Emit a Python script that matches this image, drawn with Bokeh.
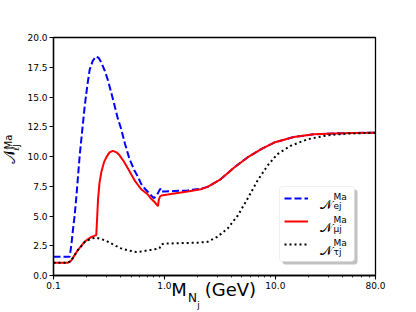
import numpy as np
from bokeh.plotting import figure
from bokeh.layouts import row
from bokeh.models import (FixedTicker, Label, Legend, LegendItem, BoxAnnotation,
                          CustomJSTickFormatter, Range1d, LinearScale, LinearAxis)
from bokeh.embed import file_html
from bokeh.resources import INLINE

# ---------------- data ----------------
mass_e = [0.100, 0.140, 0.145, 0.150, 0.155, 0.161, 0.172, 0.182, 0.191, 0.202, 0.212,
          0.225, 0.240, 0.255, 0.270, 0.290, 0.310, 0.344, 0.380, 0.408, 0.440, 0.484,
          0.538, 0.577, 0.617, 0.680, 0.740, 0.800, 0.850, 0.900, 0.925, 0.950, 1.00,
          1.23, 1.62, 2.13, 2.45, 3.23, 4.26, 5.61, 7.39, 9.75, 14.7, 22.2, 33.5, 50.0, 80.0]
n_e = [1.58, 1.58, 2.6, 3.9, 5.0, 6.7, 10.0, 12.3, 14.2, 16.0, 17.3,
       18.0, 18.4, 18.3, 17.9, 17.2, 16.4, 14.8, 13.2, 12.3, 11.1, 9.8,
       8.8, 8.3, 7.7, 7.2, 6.85, 6.5, 6.7, 7.15, 7.3, 7.05, 7.05,
       7.1, 7.15, 7.3, 7.45, 8.1, 9.08, 9.92, 10.6, 11.17, 11.64, 11.86, 11.94, 11.98, 12.0]

mass_mu = [0.100, 0.135, 0.143, 0.150, 0.166, 0.191, 0.220, 0.243, 0.248, 0.252, 0.260,
           0.270, 0.285, 0.300, 0.320, 0.343, 0.370, 0.394, 0.430, 0.469, 0.538, 0.617,
           0.700, 0.760, 0.820, 0.875, 0.890, 0.910, 0.940, 1.07, 1.62, 2.13, 2.45,
           3.23, 4.26, 5.61, 7.39, 9.75, 14.7, 22.2, 33.5, 50.0, 80.0]
n_mu = [1.08, 1.08, 1.2, 1.5, 2.14, 2.85, 3.25, 3.39, 5.0, 6.4, 7.8,
        8.7, 9.5, 9.95, 10.35, 10.47, 10.35, 10.1, 9.6, 9.0, 8.0, 7.25,
        6.85, 6.45, 6.15, 5.83, 6.35, 6.62, 6.72, 6.8, 7.06, 7.25, 7.45,
        8.1, 9.08, 9.92, 10.6, 11.17, 11.64, 11.86, 11.94, 11.98, 12.0]

mass_tau = [0.100, 0.135, 0.143, 0.150, 0.166, 0.191, 0.220, 0.243, 0.270, 0.300, 0.343,
            0.400, 0.469, 0.560, 0.650, 0.750, 0.870, 0.905, 0.930, 1.00, 1.41, 2.00,
            2.45, 3.00, 3.71, 4.60, 5.61, 6.90, 8.49, 10.4, 13.7, 19.4, 29.3, 44.4, 80.0]
n_tau = [1.08, 1.08, 1.2, 1.5, 2.14, 2.8, 3.12, 3.18, 3.06, 2.9, 2.62,
         2.3, 2.12, 1.97, 2.05, 2.15, 2.25, 2.3, 2.6, 2.68, 2.72, 2.76,
         2.83, 3.25, 3.94, 5.06, 6.44, 7.97, 9.22, 10.19, 10.89, 11.44, 11.78, 11.92, 12.0]

x_ticks = [0.1, 1.0, 10.0, 80.0]
x_minor = [0.2, 0.3, 0.4, 0.5, 0.6, 0.7, 0.8, 0.9, 2, 3, 4, 5, 6, 7, 8, 9,
           20, 30, 40, 50, 60, 70]
y_ticks = [0.0, 2.5, 5.0, 7.5, 10.0, 12.5, 15.0, 17.5, 20.0]

legend_sub = ["ej", "μj", "τj"]

# ---------------- layout constants (page pixels) ----------------
FONT = "DejaVu Sans"
W, H = 416, 312
YLW = 24                      # strip that carries the y-axis title
FL, FR, FT, FB = 52, 375, 37, 277


def text_axis(fig, side, pieces, size, standoff=0, loc=None, xr=None):
    """an invisible axis whose tick labels are the given text pieces"""
    kw = {}
    if xr is not None:
        kw["x_range_name"] = xr
    ax = LinearAxis(ticker=FixedTicker(ticks=[c for c, _ in pieces], minor_ticks=[]),
                    formatter=CustomJSTickFormatter(args=dict(labels=[t for _, t in pieces]),
                                                    code="return labels[index]"),
                    axis_line_color=None, major_tick_line_color=None,
                    minor_tick_line_color=None, major_tick_in=0, major_tick_out=0,
                    minor_tick_in=0, minor_tick_out=0, major_label_standoff=standoff,
                    major_label_text_font=FONT, major_label_text_font_size=f"{size}px",
                    major_label_text_color="black", fixed_location=loc, **kw)
    if side == "left":
        ax.major_label_orientation = "parallel"
    fig.add_layout(ax, side)


# ---------------- y-axis title strip (page pixel coordinates) ----------------
ylab = figure(width=YLW, height=H, x_axis_type=None, y_axis_type=None, title=None,
              x_range=Range1d(0, YLW), y_range=Range1d(H, 0),
              output_backend="svg", toolbar_location=None, min_border=0)
ylab.outline_line_color = None
ylab.grid.visible = False
# fixed_location = baseline x + descent
text_axis(ylab, "left", [(156, "𝒩")], 16, loc=18.8)
text_axis(ylab, "left", [(137, "Ma")], 10, loc=13.4)
text_axis(ylab, "left", [(144, "ℓj")], 10, loc=20.4)

# ---------------- main figure ----------------
p = figure(width=W - YLW, height=H, x_axis_type="log",
           x_range=Range1d(0.1, 80), y_range=Range1d(0, 20),
           output_backend="svg", toolbar_location=None,
           min_border_left=FL - YLW, min_border_right=W - FR, min_border_top=FT,
           min_border_bottom=H - FB)
p.grid.visible = False
p.outline_line_color = "black"
p.outline_line_width = 1.3

for ax in (p.xaxis[0], p.yaxis[0]):
    ax.axis_line_width = 1.3
    ax.major_tick_line_width = 1.1
    ax.minor_tick_line_width = 0.8
    ax.major_tick_in = 0
    ax.major_tick_out = 4
    ax.minor_tick_in = 0
    ax.minor_tick_out = 2
    ax.major_label_text_font = FONT
    ax.major_label_text_font_size = "9px"
    ax.major_label_text_color = "black"
    ax.major_label_standoff = 2
    ax.formatter = CustomJSTickFormatter(code="return tick.toFixed(1)")

p.xaxis.ticker = FixedTicker(ticks=x_ticks, minor_ticks=x_minor)
p.yaxis.ticker = FixedTicker(ticks=y_ticks, minor_ticks=[])

r_e = p.line(mass_e, n_e, line_color="blue", line_width=2, line_dash="7 3")
r_mu = p.line(mass_mu, n_mu, line_color="red", line_width=2)
r_tau = p.line(mass_tau, n_tau, line_color="black", line_width=2, line_dash="2 3")

# pixel range so that x-title pieces can be positioned in page pixels
p.extra_x_ranges = {"px": Range1d(FL, FR)}
p.extra_x_scales = {"px": LinearScale()}

# x axis title  M_{N_j} (GeV)   (stacked below the main x axis)
text_axis(p, "below", [(177.8, "M"), (229.5, "(GeV)")], 18, standoff=-13, xr="px")
text_axis(p, "below", [(191.5, "N")], 12, standoff=-12, xr="px")
text_axis(p, "below", [(197.5, "j")], 9, standoff=-8, xr="px")


def lab(text, px, py, size):
    p.add_layout(Label(x=px - FL, y=FB - py, x_units="screen", y_units="screen",
                       text=text, text_font=FONT, text_font_size=f"{size}px",
                       text_color="black", text_align="left",
                       text_baseline="alphabetic"))


# ---------------- legend ----------------
LX0, LX1, LY0, LY1 = 278, 353, 188, 263
p.add_layout(BoxAnnotation(left=LX0 - FL + 3, right=LX1 - FL + 3,
                           top=FB - LY0 - 3, bottom=FB - LY1 - 3,
                           left_units="screen", right_units="screen",
                           top_units="screen", bottom_units="screen",
                           fill_color="#999999", fill_alpha=0.6, line_color=None,
                           border_radius=3))
p.add_layout(BoxAnnotation(left=LX0 - FL, right=LX1 - FL,
                           top=FB - LY0, bottom=FB - LY1,
                           left_units="screen", right_units="screen",
                           top_units="screen", bottom_units="screen",
                           fill_color="white", fill_alpha=1.0, line_color="#cccccc",
                           line_width=1, border_radius=3))

rows = [200, 223, 246]
for r, yc in zip((r_e, r_mu, r_tau), rows):
    p.add_layout(Legend(items=[LegendItem(label=" ", renderers=[r])],
                        location=(283 - FL, FB - (yc + 10)), padding=0, spacing=0,
                        glyph_width=24, glyph_height=20, label_standoff=0,
                        label_text_font_size="9px", background_fill_alpha=0.0,
                        border_line_color=None, margin=0), "center")

for sub, yc in zip(legend_sub, rows):
    lab("𝒩", 318, yc + 6, 13)
    lab("Ma", 332, yc - 2, 9)
    lab(sub, 332, yc + 7, 9)

layout = row(ylab, p)
open("out.html", "w").write(file_html(layout, INLINE))
